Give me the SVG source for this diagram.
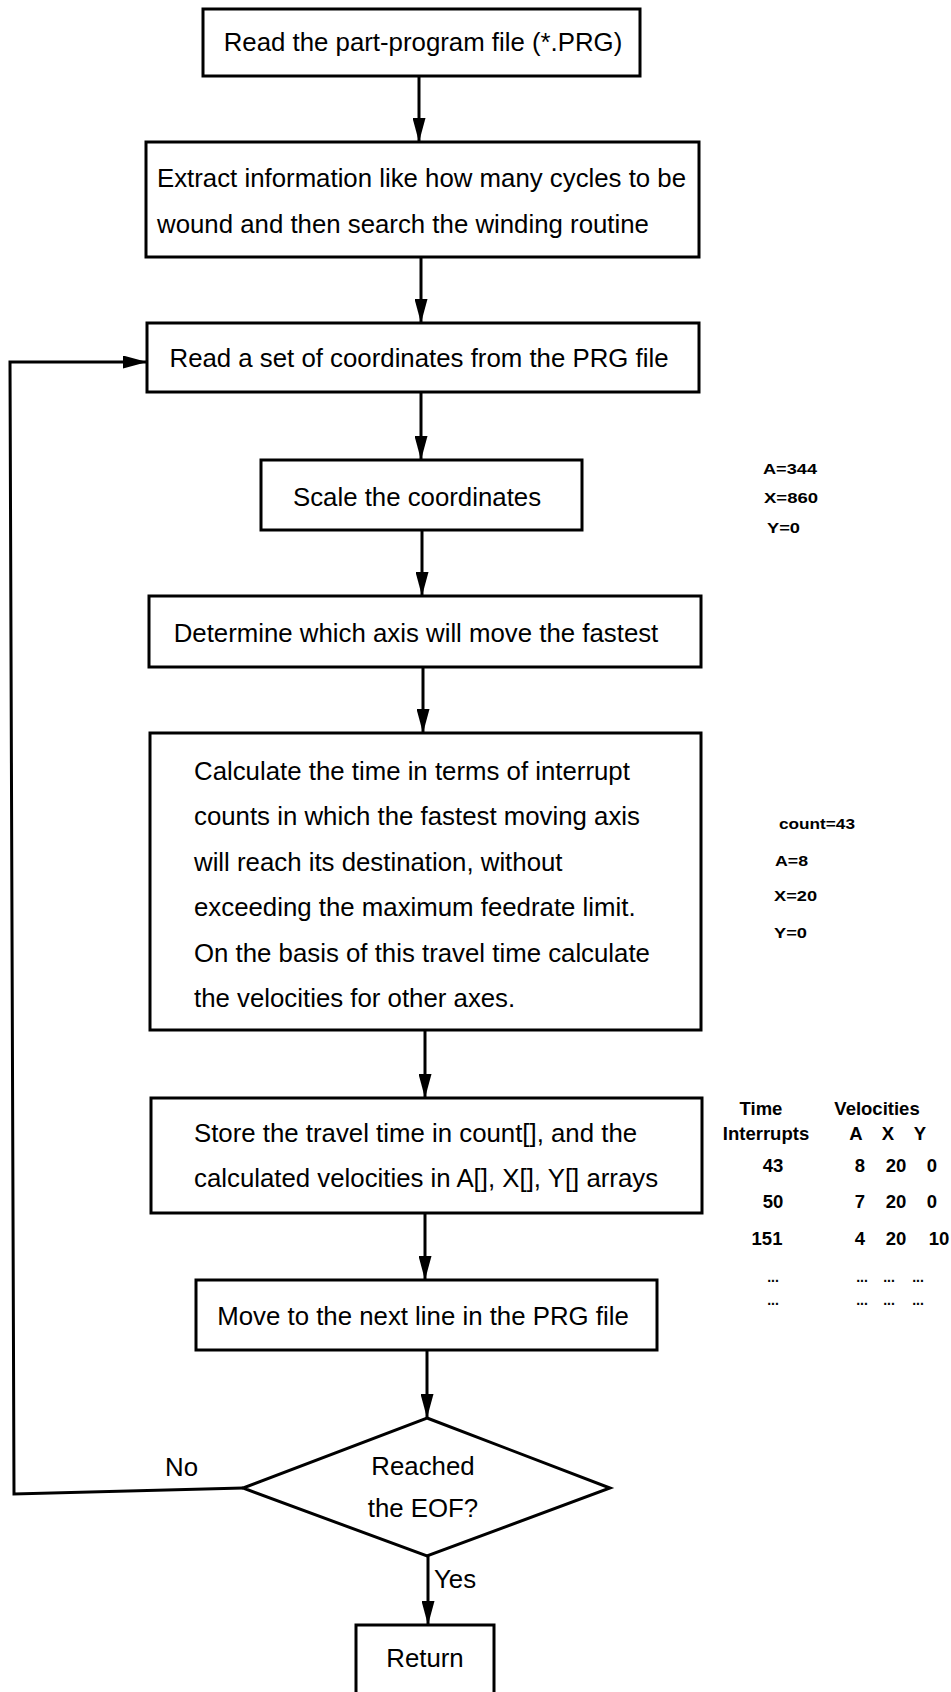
<svg xmlns="http://www.w3.org/2000/svg" width="951" height="1692" viewBox="0 0 951 1692">
<defs>
<style>
.box{fill:#fff;stroke:#000;stroke-width:3}
.t{font-family:"Liberation Sans",Arial,Helvetica,sans-serif;font-size:25.8px;fill:#000}
.c{text-anchor:middle}
.a{font-family:"Liberation Sans",Arial,Helvetica,sans-serif;font-weight:bold;font-size:15px;fill:#000}
.tb{font-family:"Liberation Sans",Arial,Helvetica,sans-serif;font-weight:bold;font-size:18.5px;text-anchor:middle;fill:#000}
.con{fill:none;stroke:#000;stroke-width:3}
</style>
<marker id="ah" viewBox="0 0 24 13" refX="24" refY="6.5" markerWidth="24" markerHeight="13" markerUnits="userSpaceOnUse" orient="auto"><path d="M0,0 L24,6.5 L0,13 z" fill="#000"/></marker>
</defs>
<rect x="0" y="0" width="951" height="1692" fill="#fff"/>

<g id="connectors">
<line class="con" x1="419" y1="76" x2="419" y2="142" marker-end="url(#ah)"/>
<line class="con" x1="421" y1="257" x2="421" y2="323" marker-end="url(#ah)"/>
<line class="con" x1="421" y1="392" x2="421" y2="460" marker-end="url(#ah)"/>
<line class="con" x1="422" y1="530" x2="422" y2="596" marker-end="url(#ah)"/>
<line class="con" x1="423" y1="667" x2="423" y2="733" marker-end="url(#ah)"/>
<line class="con" x1="425" y1="1030" x2="425" y2="1098" marker-end="url(#ah)"/>
<line class="con" x1="425" y1="1213" x2="425" y2="1280" marker-end="url(#ah)"/>
<line class="con" x1="427" y1="1350" x2="427" y2="1418" marker-end="url(#ah)"/>
<line class="con" x1="428" y1="1556" x2="428" y2="1625" marker-end="url(#ah)"/>
<polyline class="con" points="243,1488 14,1494 10,362 147,362" marker-end="url(#ah)"/>
<text class="t" x="165" y="1476">No</text>
<text class="t" x="434" y="1588">Yes</text>
</g>

<g id="n1">
<rect class="box" x="203" y="9" width="437" height="67"/>
<text class="t c" x="423" y="51">Read the part-program file (*.PRG)</text>
</g>

<g id="n2">
<rect class="box" x="146" y="142" width="553" height="115"/>
<text class="t" x="157" y="187">Extract information like how many cycles to be</text>
<text class="t" x="157" y="233">wound and then search the winding routine</text>
</g>

<g id="n3">
<rect class="box" x="147" y="323" width="552" height="69"/>
<text class="t c" x="419" y="367">Read a set of coordinates from the PRG file</text>
</g>

<g id="n4">
<rect class="box" x="261" y="460" width="321" height="70"/>
<text class="t c" x="417" y="506">Scale the coordinates</text>
</g>

<g id="n5">
<rect class="box" x="149" y="596" width="552" height="71"/>
<text class="t c" x="416" y="642">Determine which axis will move the fastest</text>
</g>

<g id="n6">
<rect class="box" x="150" y="733" width="551" height="297"/>
<text class="t" x="194" y="780">Calculate the time in terms of interrupt</text>
<text class="t" x="194" y="825">counts in which the fastest moving axis</text>
<text class="t" x="194" y="871">will reach its destination, without</text>
<text class="t" x="194" y="916">exceeding the maximum feedrate limit.</text>
<text class="t" x="194" y="962">On the basis of this travel time calculate</text>
<text class="t" x="194" y="1007">the velocities for other axes.</text>
</g>

<g id="n7">
<rect class="box" x="151" y="1098" width="551" height="115"/>
<text class="t" x="194" y="1142">Store the travel time in count[], and the</text>
<text class="t" x="194" y="1187">calculated velocities in A[], X[], Y[] arrays</text>
</g>

<g id="n8">
<rect class="box" x="196" y="1280" width="461" height="70"/>
<text class="t c" x="423" y="1325">Move to the next line in the PRG file</text>
</g>

<g id="n9">
<polygon class="box" points="427,1418 610,1488 427,1556 243,1488"/>
<text class="t c" x="423" y="1475">Reached</text>
<text class="t c" x="423" y="1517">the EOF?</text>
</g>

<g id="n10">
<rect class="box" x="356" y="1625" width="138" height="80"/>
<text class="t c" x="425" y="1667">Return</text>
</g>

<g id="ann1">
<text class="a" x="763" y="474" textLength="54" lengthAdjust="spacingAndGlyphs">A=344</text>
<text class="a" x="764" y="503" textLength="54" lengthAdjust="spacingAndGlyphs">X=860</text>
<text class="a" x="767" y="533" textLength="33" lengthAdjust="spacingAndGlyphs">Y=0</text>
</g>

<g id="ann2">
<text class="a" x="779" y="829" textLength="76" lengthAdjust="spacingAndGlyphs">count=43</text>
<text class="a" x="775" y="866" textLength="33" lengthAdjust="spacingAndGlyphs">A=8</text>
<text class="a" x="774" y="901" textLength="43" lengthAdjust="spacingAndGlyphs">X=20</text>
<text class="a" x="774" y="938" textLength="33" lengthAdjust="spacingAndGlyphs">Y=0</text>
</g>

<g id="table">
<text class="tb" x="761" y="1115">Time</text>
<text class="tb" x="877" y="1115">Velocities</text>
<text class="tb" x="766" y="1140">Interrupts</text>
<text class="tb" x="856" y="1140">A</text>
<text class="tb" x="888" y="1140">X</text>
<text class="tb" x="920" y="1140">Y</text>
<text class="tb" x="773" y="1172">43</text>
<text class="tb" x="860" y="1172">8</text>
<text class="tb" x="896" y="1172">20</text>
<text class="tb" x="932" y="1172">0</text>
<text class="tb" x="773" y="1208">50</text>
<text class="tb" x="860" y="1208">7</text>
<text class="tb" x="896" y="1208">20</text>
<text class="tb" x="932" y="1208">0</text>
<text class="tb" x="767" y="1245">151</text>
<text class="tb" x="860" y="1245">4</text>
<text class="tb" x="896" y="1245">20</text>
<text class="tb" x="939" y="1245">10</text>
<text class="tb" x="773" y="1282" style="font-size:14px">...</text>
<text class="tb" x="862" y="1282" style="font-size:14px">...</text>
<text class="tb" x="889" y="1282" style="font-size:14px">...</text>
<text class="tb" x="918" y="1282" style="font-size:14px">...</text>
<text class="tb" x="773" y="1305" style="font-size:14px">...</text>
<text class="tb" x="862" y="1305" style="font-size:14px">...</text>
<text class="tb" x="889" y="1305" style="font-size:14px">...</text>
<text class="tb" x="918" y="1305" style="font-size:14px">...</text>
</g>
</svg>
